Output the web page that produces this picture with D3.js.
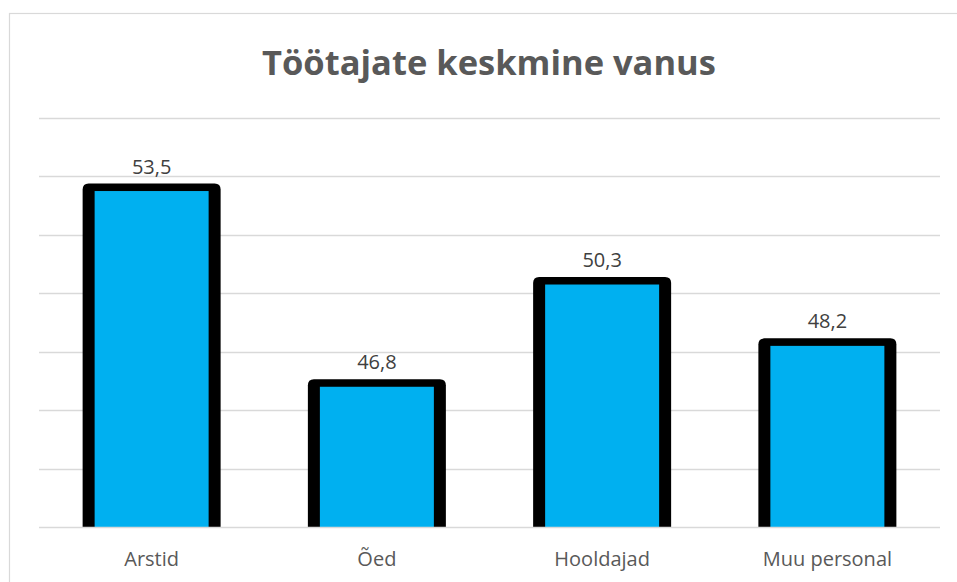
<!DOCTYPE html>
<html>
<head>
<meta charset="utf-8">
<script src="https://cdn.jsdelivr.net/npm/d3@7"></script>
<style>
  html, body { margin: 0; padding: 0; background: #ffffff; }
  svg { display: block; }
</style>
</head>
<body>
<svg id="chart" width="957" height="582"></svg>
<script>
const title = "Töötajate keskmine vanus";
const categories = ["Arstid", "Õed", "Hooldajad", "Muu personal"];
const values = [53.5, 46.8, 50.3, 48.2];
const yTicks = [42, 44, 46, 48, 50, 52, 54, 56];

const W = 957, H = 582;
const plot = { left: 39, right: 940, top: 118, bottom: 527 };

const svg = d3.select("#chart");

// chart border
svg.append("rect")
  .attr("x", 9.5).attr("y", 13.5)
  .attr("width", W + 10).attr("height", H + 10)
  .attr("fill", "none").attr("stroke", "#d9d9d9").attr("stroke-width", 1.2);

const x = d3.scaleBand().domain(categories).range([plot.left, plot.right]).paddingInner(0).paddingOuter(0);
const y = d3.scaleLinear().domain([42, 56]).range([plot.bottom, plot.top]);

// gridlines (excluding baseline)
svg.append("g").selectAll("line")
  .data(yTicks.filter(t => t !== 42))
  .join("line")
  .attr("x1", plot.left).attr("x2", plot.right)
  .attr("y1", d => Math.round(y(d)) + 0.5).attr("y2", d => Math.round(y(d)) + 0.5)
  .attr("stroke", "#d9d9d9").attr("stroke-width", 1.3);

const outerW = 138, innerW = 114, topStroke = 7.5, r = 6;

function outerPath(cx, top, bottom) {
  const l = cx - outerW / 2, rr = cx + outerW / 2;
  return `M${l},${bottom} L${l},${top + r} Q${l},${top} ${l + r},${top} L${rr - r},${top} Q${rr},${top} ${rr},${top + r} L${rr},${bottom} Z`;
}

const bars = svg.append("g").selectAll("g")
  .data(categories.map((c, i) => ({ c, v: values[i] })))
  .join("g");

bars.append("path")
  .attr("d", d => outerPath(x(d.c) + x.bandwidth() / 2, y(d.v) - topStroke, plot.bottom))
  .attr("fill", "#000000");

bars.append("rect")
  .attr("x", d => x(d.c) + x.bandwidth() / 2 - innerW / 2)
  .attr("y", d => y(d.v))
  .attr("width", innerW)
  .attr("height", d => plot.bottom - y(d.v))
  .attr("fill", "#00B0F0");

// value labels
bars.append("text")
  .attr("x", d => x(d.c) + x.bandwidth() / 2)
  .attr("y", d => y(d.v) - topStroke - 10)
  .attr("text-anchor", "middle")
  .attr("font-family", "'Open Sans', sans-serif")
  .attr("font-size", 20)
  .attr("fill", "#404040")
  .text(d => d3.format(".1f")(d.v).replace(".", ","));

// baseline
svg.append("line")
  .attr("x1", plot.left).attr("x2", plot.right)
  .attr("y1", y(42) + 0.5).attr("y2", y(42) + 0.5)
  .attr("stroke", "#d9d9d9").attr("stroke-width", 1.5);

// x axis labels
const xAxis = d3.axisBottom(x).tickSize(0).tickPadding(0);
const gx = svg.append("g").attr("transform", `translate(0,${plot.bottom})`).call(xAxis);
gx.select(".domain").remove();
gx.selectAll("text")
  .attr("y", 39)
  .attr("dy", null)
  .attr("font-family", "'Open Sans', sans-serif")
  .attr("font-size", 20)
  .attr("fill", "#595959");

// title
svg.append("text")
  .attr("x", 489)
  .attr("y", 75)
  .attr("text-anchor", "middle")
  .attr("font-family", "'Open Sans', sans-serif")
  .attr("font-weight", "bold")
  .attr("font-size", 34.5)
  .attr("fill", "#595959")
  .text(title);
</script>
</body>
</html>
